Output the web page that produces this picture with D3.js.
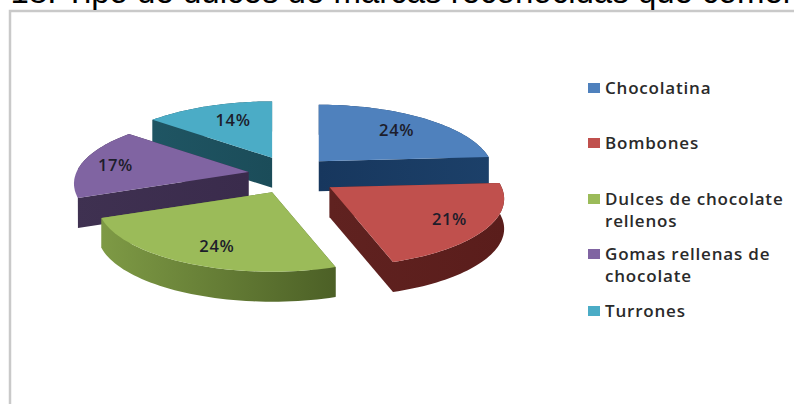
<!DOCTYPE html>
<html lang="es">
<head>
<meta charset="utf-8">
<title>Tipo de dulces de marcas reconocidas</title>
<script src="https://cdn.jsdelivr.net/npm/d3@7/dist/d3.min.js"></script>
<style>
  html, body { margin: 0; padding: 0; background: #fff; }
  svg { display: block; }
</style>
</head>
<body>
<svg id="chart" width="794" height="404"></svg>
<script>
const categories = ["Chocolatina", "Bombones", "Dulces de chocolate rellenos", "Gomas rellenas de chocolate", "Turrones"];
const shares = [24, 21, 24, 17, 14];
const legendLines = [["Chocolatina"], ["Bombones"], ["Dulces de chocolate", "rellenos"], ["Gomas rellenas de", "chocolate"], ["Turrones"]];
const topColors = ["#4f81bd", "#c0504d", "#9bbb59", "#8064a2", "#4bacc6"];
const wallColors = [["#17375e", "#1c4069"], ["#602220", "#5a1d1b"], ["#7e9a45", "#4c6026"], ["#3f3151", "#3a2b4c"], ["#1f5563", "#1b4c59"]];
const paintOrder = [4, 0, 3, 1, 2];
const legendRowY = [88, 143, 199, 254, 311];
const titleText = "Gráfico 18. Tipo de dulces de marcas reconocidas que comen";

const svg = d3.select("#chart");
const defs = svg.append("defs");

// Tilted-disc projection: the near side of the pie reads larger than the far side.
const view = { cx: 290, cy: 175, rx: 172, ry: 66, depth: 30, tilt: 0.17, pullX: 42, pullY: 19 };
const explode = [1, 1.14, 1, 1, 1];
const labelReach = [0.72, 0.78, 0.72, 0.8, 0.68];
const labelShift = [[0, 0], [0, 0], [4, 5], [0, 0], [6, -2]];

const arcs = d3.pie().value(d => d).sort(null)(shares);

function project(angle, r, origin) {
  const u = Math.sin(angle) * r;
  const v = -Math.cos(angle) * r;
  const w = 1 / (1 - view.tilt * v);
  return [origin[0] + view.rx * u * w, origin[1] + view.ry * v * w];
}

function apexOf(d) {
  const mid = (d.startAngle + d.endAngle) / 2;
  const k = explode[d.index];
  return [view.cx + k * view.pullX * Math.sin(mid), view.cy - k * view.pullY * Math.cos(mid)];
}

function rimOf(d) {
  const apex = apexOf(d);
  const steps = 48;
  return d3.range(steps + 1).map(i =>
    project(d.startAngle + (d.endAngle - d.startAngle) * i / steps, 1, apex));
}

const closedLine = d3.line().curve(d3.curveLinearClosed);
const lowered = p => [p[0], p[1] + view.depth];

// Chart frame: only the top and left edges are visible.
svg.append("path")
  .attr("d", "M10,404V11H794")
  .attr("fill", "none")
  .attr("stroke", "#c9c9c9")
  .attr("stroke-width", 2.5);

svg.append("text")
  .attr("x", -105)
  .attr("y", 3)
  .attr("font-family", "'Liberation Sans', Arial, sans-serif")
  .attr("font-size", 33)
  .attr("fill", "#000")
  .text(titleText);

const sliceLayer = svg.append("g");
paintOrder.forEach(i => {
  const d = arcs[i];
  const apex = apexOf(d);
  const rim = rimOf(d);
  const first = rim[0];
  const last = rim[rim.length - 1];
  const xs = d3.extent([apex, ...rim], p => p[0]);
  const gradId = "wall-" + i;
  const grad = defs.append("linearGradient")
    .attr("id", gradId)
    .attr("gradientUnits", "userSpaceOnUse")
    .attr("x1", xs[0]).attr("x2", xs[1]).attr("y1", 0).attr("y2", 0);
  grad.append("stop").attr("offset", 0).attr("stop-color", wallColors[i][0]);
  grad.append("stop").attr("offset", 1).attr("stop-color", wallColors[i][1]);

  const g = sliceLayer.append("g").attr("class", "slice");
  // Side walls: the two cut faces, then the curved outer band as one shape.
  [[apex, first], [apex, last]].forEach(([p, q]) => {
    g.append("path")
      .attr("d", closedLine([p, q, lowered(q), lowered(p)]))
      .attr("fill", `url(#${gradId})`);
  });
  // The band stops at the outer corners of the cut faces.
  const leftLimit = Math.min(first[0], last[0]);
  const band = rim.filter(p => p[0] >= leftLimit);
  g.append("path")
    .attr("d", closedLine([...band, ...band.map(lowered).reverse()]))
    .attr("fill", `url(#${gradId})`);
  g.append("path").attr("d", closedLine([apex, ...rim])).attr("fill", topColors[i]);
});

// Percentage labels sit on the top faces.
const labelFont = "'Open Sans', 'Noto Sans', sans-serif";
const labelPoint = d => project((d.startAngle + d.endAngle) / 2, labelReach[d.index], apexOf(d));
svg.append("g").selectAll("text")
  .data(arcs)
  .join("text")
  .attr("x", d => labelPoint(d)[0] + labelShift[d.index][0])
  .attr("y", d => labelPoint(d)[1] + 1 + labelShift[d.index][1])
  .attr("dy", "0.35em")
  .attr("text-anchor", "middle")
  .attr("font-family", labelFont)
  .attr("font-size", 16.5)
  .attr("font-weight", 600)
  .attr("letter-spacing", 0.6)
  .attr("fill", "#1d1d2b")
  .text(d => d.data + "%");

const legend = svg.append("g").selectAll("g")
  .data(categories)
  .join("g")
  .attr("transform", (d, i) => `translate(588,${legendRowY[i]})`);

legend.append("rect")
  .attr("x", 0).attr("y", -5).attr("width", 12).attr("height", 10)
  .attr("fill", (d, i) => topColors[i]);

legend.append("text")
  .attr("font-family", labelFont)
  .attr("font-size", 17)
  .attr("font-weight", 600)
  .attr("letter-spacing", 0.8)
  .attr("fill", "#2a2a2a")
  .selectAll("tspan")
  .data((d, i) => legendLines[i])
  .join("tspan")
  .attr("x", 17)
  .attr("y", (d, k) => k * 22)
  .attr("dy", "0.35em")
  .text(d => d);
</script>
</body>
</html>
